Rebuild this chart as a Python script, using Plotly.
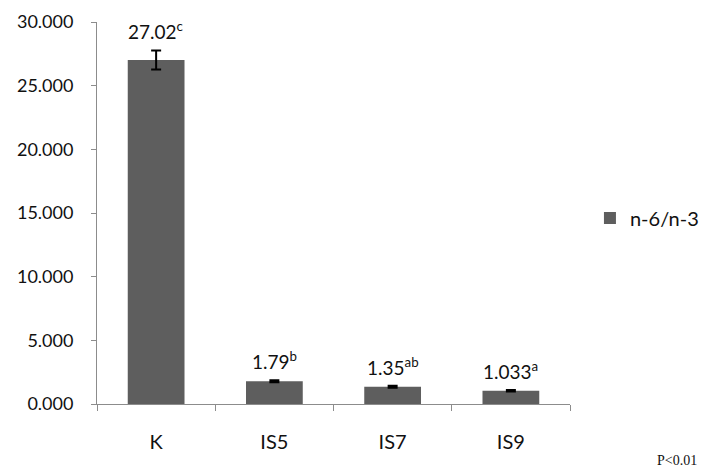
import plotly.graph_objects as go

categories = ["K", "IS5", "IS7", "IS9"]
values = [27.02, 1.79, 1.35, 1.033]
errors = [0.75, 0.08, 0.08, 0.06]
value_labels = ["27.02", "1.79", "1.35", "1.033"]
letters = ["c", "b", "ab", "a"]
series_name = "n-6/n-3"

FONT = "Lato, Open Sans, Liberation Sans, sans-serif"

fig = go.Figure()
fig.add_trace(go.Bar(
    x=categories, y=values, name=series_name,
    marker=dict(color="#5e5e5e", line=dict(width=0)),
    width=0.48,
    error_y=dict(type="data", array=errors, visible=True,
                 color="#000000", thickness=2, width=5),
    showlegend=True,
))

for c, v, e, lab, let in zip(categories, values, errors, value_labels, letters):
    fig.add_annotation(
        x=c, y=v + e, text=f"{lab}<sup>{let}</sup>", showarrow=False,
        yanchor="bottom", yshift=5,
        font=dict(family=FONT, size=19, color="#111111"),
    )

fig.add_annotation(
    x=1.18, y=-0.149, xref="paper", yref="paper", xanchor="left", yanchor="middle",
    text="P<0.01", showarrow=False,
    font=dict(family="Liberation Serif, Times New Roman, serif", size=14, color="#111111"),
)

fig.update_layout(
    width=704, height=469,
    margin=dict(l=97, r=134, t=22, b=65),
    paper_bgcolor="white", plot_bgcolor="white",
    font=dict(family=FONT, color="#111111"),
    legend=dict(xref="container", yref="container", x=0.838, y=0.535,
                xanchor="left", yanchor="middle",
                font=dict(size=20), itemwidth=30),
    bargap=0.52,
)

fig.update_yaxes(
    range=[0, 30], dtick=5, tickformat=".3f", automargin=False,
    showgrid=False, zeroline=False,
    showline=True, linecolor="#8c8c8c", linewidth=1,
    ticks="outside", ticklen=5, tickcolor="#8c8c8c",
    tickfont=dict(size=18), ticklabelstandoff=14,
)
fig.update_xaxes(
    automargin=False,
    showgrid=False, showline=True, linecolor="#8c8c8c", linewidth=1,
    ticks="outside", ticklen=6, tickcolor="#8c8c8c", tickson="boundaries",
    tickfont=dict(size=20), ticklabelstandoff=20,
)

fig.write_html(
    "out.html",
    config={"displayModeBar": False},
    post_script="document.body.style.margin='0';document.body.style.overflow='hidden';",
)
